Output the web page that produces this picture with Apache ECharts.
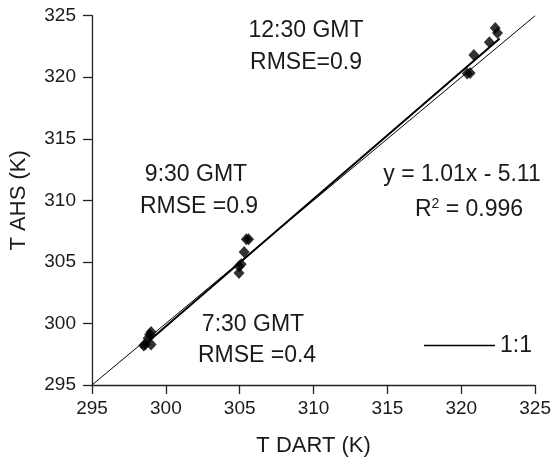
<!DOCTYPE html>
<html>
<head>
<meta charset="utf-8">
<script src="https://cdn.jsdelivr.net/npm/echarts@6/dist/echarts.min.js"></script>
<style>
html,body{margin:0;padding:0;background:#fff;}
#c{width:554px;height:462px;}
</style>
</head>
<body>
<div id="c"></div>
<script>
// ---- data ----
var xTicks = [295, 300, 305, 310, 315, 320, 325];
var yTicks = [295, 300, 305, 310, 315, 320, 325];
var obs0730 = [[298.5, 298.2], [298.6, 298.3], [299.0, 298.3], [298.8, 298.8], [299.0, 299.3], [298.9, 299.1]];
var obs0930 = [[304.95, 304.1], [304.95, 304.65], [305.1, 304.8], [305.3, 305.8], [305.45, 306.85], [305.6, 306.85]];
var obs1230 = [[320.4, 320.3], [320.6, 320.35], [320.85, 321.8], [321.9, 322.85], [322.3, 324.0], [322.45, 323.6]];
var oneToOne = [[295, 295], [325, 325]];
var fitLine = [[298.3, 298.0], [322.6, 323.15]];
var annoTexts = ['12:30 GMT', 'RMSE=0.9', '9:30 GMT', 'RMSE =0.9', '7:30 GMT', 'RMSE =0.4', 'y = 1.01x - 5.11', 'R{sup|2} = 0.996'];

var chart = echarts.init(document.getElementById('c'));
var font = 'Liberation Sans, Arial, sans-serif';
var txtColor = '#1a1a1a';

function axisCommon(name) {
  return {
    type: 'value', min: 295, max: 325, interval: 5,
    name: name, nameLocation: 'middle',
    nameTextStyle: { fontFamily: font, fontSize: 22, color: txtColor },
    axisLine: { show: true, lineStyle: { color: '#222', width: 1.3 } },
    axisTick: { show: true, inside: false, length: 9, lineStyle: { color: '#222', width: 1.3 } },
    axisLabel: { fontFamily: font, fontSize: 19, color: txtColor, margin: 15 },
    splitLine: { show: false }
  };
}
var xAxis = axisCommon('T DART (K)');
xAxis.nameGap = 50;
xAxis.axisLabel.margin = 14;
var yAxis = axisCommon('T AHS (K)');
yAxis.nameGap = 62;
yAxis.axisLabel.margin = 16;

function scatter(name, data) {
  return {
    name: name, type: 'scatter', data: data,
    symbol: 'diamond', symbolSize: [11, 12],
    itemStyle: { color: '#000' }, z: 5
  };
}

var option = {
  backgroundColor: '#fff',
  animation: false,
  grid: { left: 91.7, right: 17.3, top: 15.7, bottom: 68.7, containLabel: false },
  xAxis: xAxis,
  yAxis: yAxis,
  legend: {
    data: [{ name: '1:1', icon: 'rect' }], left: 419, top: 329, itemWidth: 71, itemHeight: 1.3, itemGap: 2,
    textStyle: { fontFamily: font, fontSize: 23, color: txtColor },
    selectedMode: false
  },
  series: [
    scatter('7:30 GMT', obs0730),
    scatter('9:30 GMT', obs0930),
    scatter('12:30 GMT', obs1230),
    { name: '1:1', type: 'line', data: oneToOne, showSymbol: false, symbol: 'none',
      lineStyle: { color: '#000', width: 1 }, itemStyle: { color: '#000' }, z: 3 },
    { name: 'fit', type: 'line', data: fitLine, showSymbol: false, symbol: 'none',
      lineStyle: { color: '#000', width: 2 }, z: 4 }
  ]
};
chart.setOption(option);

var pos = [[306, 31], [306, 63], [196, 175], [199, 207], [253, 325], [257, 356], [462, 175], [469, 210]];
var gs = [];
for (var i = 0; i < annoTexts.length; i++) {
  gs.push({
    type: 'text', x: pos[i][0], y: pos[i][1],
    style: {
      text: annoTexts[i], font: '23px ' + font, fill: txtColor,
      align: 'center', verticalAlign: 'middle',
      rich: { sup: { fontSize: 14, fontFamily: font, fill: txtColor, padding: [0, 0, 12, 0] } }
    }
  });
}
chart.setOption({ graphic: gs });
</script>
</body>
</html>
